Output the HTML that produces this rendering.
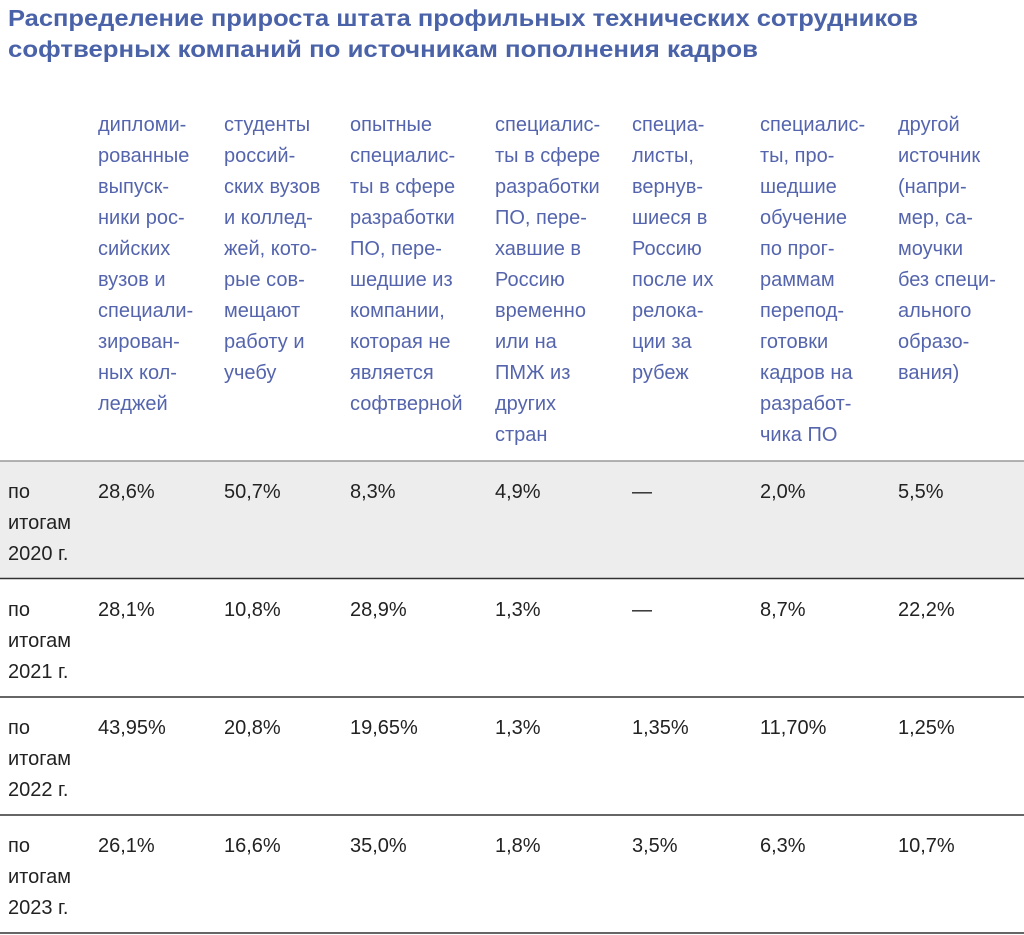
<!DOCTYPE html>
<html><head><meta charset="utf-8"><style>
html,body{margin:0;padding:0;background:#fff;}
svg{display:block;}
text{font-family:"Liberation Sans",sans-serif;}
.t{font-weight:bold;fill:#4a62a8;font-size:23px;}
.h{fill:#5565ad;font-size:20px;}
.d{fill:#222;font-size:20px;}
</style></head><body>
<svg width="1024" height="935" xmlns="http://www.w3.org/2000/svg">
<text class="t" x="8" y="26" textLength="910" lengthAdjust="spacingAndGlyphs">Распределение прироста штата профильных технических сотрудников</text>
<text class="t" x="8" y="57" textLength="750" lengthAdjust="spacingAndGlyphs">софтверных компаний по источникам пополнения кадров</text>

<g class="h">
<text x="98" y="131"><tspan x="98">дипломи-</tspan><tspan x="98" dy="31">рованные</tspan><tspan x="98" dy="31">выпуск-</tspan><tspan x="98" dy="31">ники рос-</tspan><tspan x="98" dy="31">сийских</tspan><tspan x="98" dy="31">вузов и</tspan><tspan x="98" dy="31">специали-</tspan><tspan x="98" dy="31">зирован-</tspan><tspan x="98" dy="31">ных кол-</tspan><tspan x="98" dy="31">леджей</tspan></text>
<text x="224" y="131"><tspan x="224">студенты</tspan><tspan x="224" dy="31">россий-</tspan><tspan x="224" dy="31">ских вузов</tspan><tspan x="224" dy="31">и коллед-</tspan><tspan x="224" dy="31">жей, кото-</tspan><tspan x="224" dy="31">рые сов-</tspan><tspan x="224" dy="31">мещают</tspan><tspan x="224" dy="31">работу и</tspan><tspan x="224" dy="31">учебу</tspan></text>
<text x="350" y="131"><tspan x="350">опытные</tspan><tspan x="350" dy="31">специалис-</tspan><tspan x="350" dy="31">ты в сфере</tspan><tspan x="350" dy="31">разработки</tspan><tspan x="350" dy="31">ПО, пере-</tspan><tspan x="350" dy="31">шедшие из</tspan><tspan x="350" dy="31">компании,</tspan><tspan x="350" dy="31">которая не</tspan><tspan x="350" dy="31">является</tspan><tspan x="350" dy="31">софтверной</tspan></text>
<text x="495" y="131"><tspan x="495">специалис-</tspan><tspan x="495" dy="31">ты в сфере</tspan><tspan x="495" dy="31">разработки</tspan><tspan x="495" dy="31">ПО, пере-</tspan><tspan x="495" dy="31">хавшие в</tspan><tspan x="495" dy="31">Россию</tspan><tspan x="495" dy="31">временно</tspan><tspan x="495" dy="31">или на</tspan><tspan x="495" dy="31">ПМЖ из</tspan><tspan x="495" dy="31">других</tspan><tspan x="495" dy="31">стран</tspan></text>
<text x="632" y="131"><tspan x="632">специа-</tspan><tspan x="632" dy="31">листы,</tspan><tspan x="632" dy="31">вернув-</tspan><tspan x="632" dy="31">шиеся в</tspan><tspan x="632" dy="31">Россию</tspan><tspan x="632" dy="31">после их</tspan><tspan x="632" dy="31">релока-</tspan><tspan x="632" dy="31">ции за</tspan><tspan x="632" dy="31">рубеж</tspan></text>
<text x="760" y="131"><tspan x="760">специалис-</tspan><tspan x="760" dy="31">ты, про-</tspan><tspan x="760" dy="31">шедшие</tspan><tspan x="760" dy="31">обучение</tspan><tspan x="760" dy="31">по прог-</tspan><tspan x="760" dy="31">раммам</tspan><tspan x="760" dy="31">перепод-</tspan><tspan x="760" dy="31">готовки</tspan><tspan x="760" dy="31">кадров на</tspan><tspan x="760" dy="31">разработ-</tspan><tspan x="760" dy="31">чика ПО</tspan></text>
<text x="898" y="131"><tspan x="898">другой</tspan><tspan x="898" dy="31">источник</tspan><tspan x="898" dy="31">(напри-</tspan><tspan x="898" dy="31">мер, са-</tspan><tspan x="898" dy="31">моучки</tspan><tspan x="898" dy="31">без специ-</tspan><tspan x="898" dy="31">ального</tspan><tspan x="898" dy="31">образо-</tspan><tspan x="898" dy="31">вания)</tspan></text>
</g>

<rect x="0" y="461" width="1024" height="117" fill="#ededed"/>
<line x1="0" y1="461" x2="1024" y2="461" stroke="#9a9a9a" stroke-width="1.5"/>
<line x1="0" y1="578.5" x2="1024" y2="578.5" stroke="#333" stroke-width="1.5"/>
<line x1="0" y1="697" x2="1024" y2="697" stroke="#333" stroke-width="1.5"/>
<line x1="0" y1="815" x2="1024" y2="815" stroke="#333" stroke-width="1.5"/>
<line x1="0" y1="933" x2="1024" y2="933" stroke="#333" stroke-width="1.5"/>

<g class="d">
<text y="498"><tspan x="8">по</tspan><tspan x="8" dy="31">итогам</tspan><tspan x="8" dy="31">2020 г.</tspan></text>
<text y="498"><tspan x="98">28,6%</tspan><tspan x="224">50,7%</tspan><tspan x="350">8,3%</tspan><tspan x="495">4,9%</tspan><tspan x="632">—</tspan><tspan x="760">2,0%</tspan><tspan x="898">5,5%</tspan></text>
<text y="616"><tspan x="8">по</tspan><tspan x="8" dy="31">итогам</tspan><tspan x="8" dy="31">2021 г.</tspan></text>
<text y="616"><tspan x="98">28,1%</tspan><tspan x="224">10,8%</tspan><tspan x="350">28,9%</tspan><tspan x="495">1,3%</tspan><tspan x="632">—</tspan><tspan x="760">8,7%</tspan><tspan x="898">22,2%</tspan></text>
<text y="734"><tspan x="8">по</tspan><tspan x="8" dy="31">итогам</tspan><tspan x="8" dy="31">2022 г.</tspan></text>
<text y="734"><tspan x="98">43,95%</tspan><tspan x="224">20,8%</tspan><tspan x="350">19,65%</tspan><tspan x="495">1,3%</tspan><tspan x="632">1,35%</tspan><tspan x="760">11,70%</tspan><tspan x="898">1,25%</tspan></text>
<text y="852"><tspan x="8">по</tspan><tspan x="8" dy="31">итогам</tspan><tspan x="8" dy="31">2023 г.</tspan></text>
<text y="852"><tspan x="98">26,1%</tspan><tspan x="224">16,6%</tspan><tspan x="350">35,0%</tspan><tspan x="495">1,8%</tspan><tspan x="632">3,5%</tspan><tspan x="760">6,3%</tspan><tspan x="898">10,7%</tspan></text>
</g>
</svg>
</body></html>
